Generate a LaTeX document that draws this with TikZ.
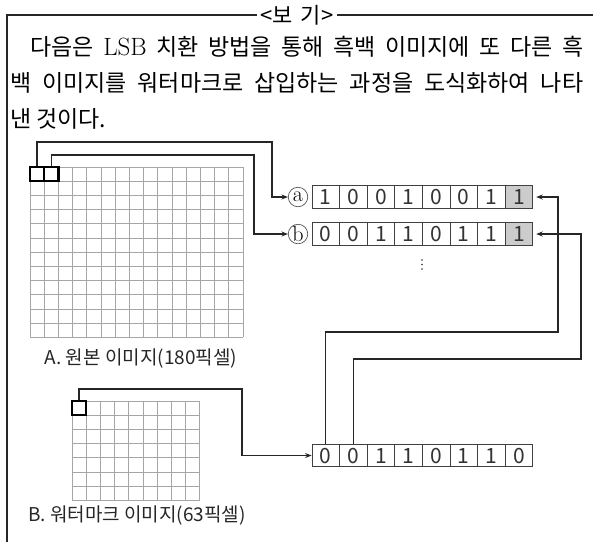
\documentclass[tikz,border=0pt]{standalone}
\usepackage{fontspec}
\newfontfamily\kr{Noto Sans CJK KR}
\usetikzlibrary{arrows.meta}

\tikzset{
  gridline/.style={black!35, line width=0.9pt},
  pix/.style={draw, line width=2.2pt, minimum size=14.2pt, inner sep=0pt},
  bit/.style={draw=black!75, line width=0.8pt, minimum width=27.6pt, minimum height=22.5pt,
    inner sep=0pt, font=\kr\fontsize{21}{21}\selectfont, text=black!80},
  lsb/.style={bit, fill=black!20},
  tag/.style={circle, draw=black!75, line width=0.6pt, minimum size=19.5pt, inner sep=0pt,
    font=\fontsize{22}{22}\selectfont},
  conn/.style={line width=1.3pt, black!85, -{Stealth[length=6.5pt,width=5pt]}},
  caption/.style={font=\kr\fontsize{19}{19}\selectfont, text=black!85}
}

\begin{document}
\begin{tikzpicture}[x=1pt,y=-1pt]
  \useasboundingbox (0,0) rectangle (593,542);

  % Frame and title
  \draw[line width=1.3pt, black!85] (7,542) -- (7,15) -- (593,15);
  \node[fill=white, inner xsep=4pt, font=\kr\fontsize{22}{22}\selectfont] (title) at (297,15) {<보\hspace{8pt}기>};

  % Text
  \node[anchor=north west, inner sep=0pt, text width=573pt, align=justify,
    font=\kr\fontsize{23}{36}\selectfont] (body) at (10,36)
    {\hspace*{20pt}다음은 {\rmfamily\fontsize{25}{36}\selectfont LSB} 치환 방법을 통해 흑백 이미지에 또 다른 흑\linebreak
     백 이미지를 워터마크로 삽입하는 과정을 도식화하여 나타\linebreak
     낸 것이다.};

  % Original image (15 x 12)
  \foreach \i in {0,...,15}
    \draw[gridline] ({30+\i*14.2},167) -- ({30+\i*14.2},337.4);
  \foreach \j in {0,...,12}
    \draw[gridline] (30,{167+\j*14.2}) -- (243,{167+\j*14.2});
  \node[pix] (pa1) at (37.1,174.1) {};
  \node[pix] (pa2) at (51.3,174.1) {};
  \node[caption] (capa) at (141,358) {A. 원본 이미지(180픽셀)};

  % Watermark image (9 x 7)
  \foreach \i in {0,...,9}
    \draw[gridline] ({72+\i*14.2},401) -- ({72+\i*14.2},500.4);
  \foreach \j in {0,...,7}
    \draw[gridline] (72,{401+\j*14.2}) -- (199.8,{401+\j*14.2});
  \node[pix] (pb) at (79.1,408.1) {};
  \node[caption] (capb) at (137,515) {B. 워터마크 이미지(63픽셀)};

  % Bytes
  \node[tag] (ca) at (298,197) {a};
  \node[tag] (cb) at (298,234) {b};
  \foreach \v [count=\i] in {1,0,0,1,0,0,1}
    \node[bit] (a\i) at ({298.2+\i*27.6},197) {\v};
  \node[lsb] (a8) at (519,197) {1};
  \foreach \v [count=\i] in {0,0,1,1,0,1,1}
    \node[bit] (b\i) at ({298.2+\i*27.6},234) {\v};
  \node[lsb] (b8) at (519,234) {1};
  \foreach \k in {0,1,2}
    \fill[black!80] (422,{260+\k*4.5}) circle (0.9pt);
  \foreach \v [count=\i] in {0,0,1,1,0,1,1,0}
    \node[bit] (w\i) at ({298.2+\i*27.6},455.5) {\v};

  % Connectors
  \draw[conn] (pa1.north) |- (272,142) |- (ca.west);
  \draw[conn] (pa2.north) |- (254,155) |- (cb.west);
  \draw[conn] (pb.north) |- (242,389) |- (w1.west);
  \draw[conn] (w1.north) |- (558,332) |- ([xshift=3pt]a8.east);
  \draw[conn] (w2.north) |- (581,359) |- ([xshift=3pt]b8.east);
\end{tikzpicture}
\end{document}
